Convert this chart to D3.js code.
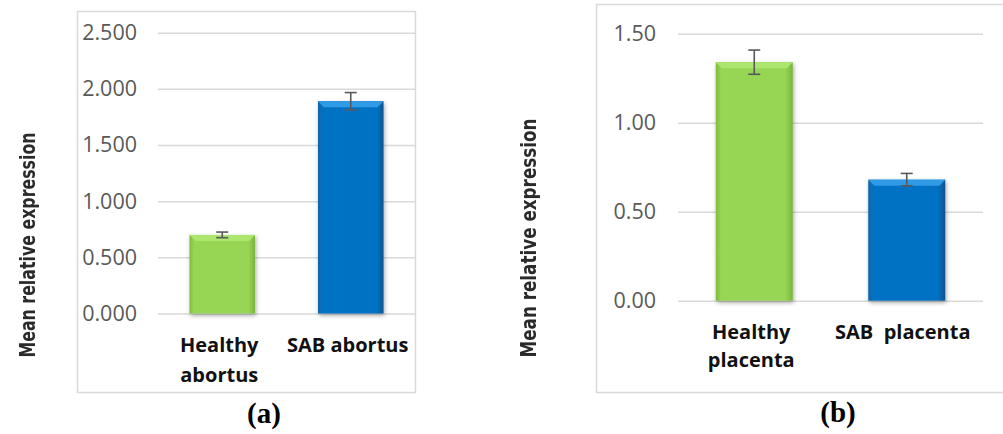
<!DOCTYPE html>
<html>
<head>
<meta charset="utf-8">
<script src="https://cdn.jsdelivr.net/npm/d3@7"></script>
<style>
  html, body { margin: 0; padding: 0; background: #fff; }
  svg { display: block; }
</style>
</head>
<body>
<svg id="fig" width="1003" height="434"></svg>
<script>
// Panel (a): abortus tissue
const categoriesA = ["Healthy abortus", "SAB abortus"];
const labelLinesA = [["Healthy", "abortus"], ["SAB abortus"]];
const valuesA = [0.70, 1.89];
const errorsA = [0.025, 0.077];
const ticksA = [0, 0.5, 1.0, 1.5, 2.0, 2.5];

// Panel (b): placenta tissue
const categoriesB = ["Healthy placenta", "SAB placenta"];
const labelLinesB = [["Healthy", "placenta"], ["SAB  placenta"]];
const valuesB = [1.34, 0.68];
const errorsB = [0.068, 0.035];
const ticksB = [0, 0.5, 1.0, 1.5];

const yTitle = "Mean relative expression";
const barColors = ["green", "blue"];

const svg = d3.select("#fig");
const defs = svg.append("defs");

const palette = {
  green: { main: "#97d654", edgeL: "#7dbb3e", edgeR: "#78b33a", top: "#ace66e" },
  blue:  { main: "#0572c3", edgeL: "#0b64a8", edgeR: "#0a528c", top: "#2f9ae6" }
};

Object.entries(palette).forEach(([k, c]) => {
  const g = defs.append("linearGradient").attr("id", "grad-" + k)
    .attr("x1", "0").attr("x2", "1").attr("y1", "0").attr("y2", "0");
  g.append("stop").attr("offset", "0").attr("stop-color", c.edgeL);
  g.append("stop").attr("offset", "0.07").attr("stop-color", c.main);
  g.append("stop").attr("offset", "0.9").attr("stop-color", c.main);
  g.append("stop").attr("offset", "1").attr("stop-color", c.edgeR);
});

const shadow = defs.append("filter").attr("id", "barShadow")
  .attr("x", "-20%").attr("y", "-10%").attr("width", "140%").attr("height", "125%");
shadow.append("feDropShadow").attr("dx", 1).attr("dy", 2)
  .attr("stdDeviation", 2.2).attr("flood-color", "#000").attr("flood-opacity", 0.35);

const soft = defs.append("filter").attr("id", "softText");
soft.append("feGaussianBlur").attr("stdDeviation", 0.45);

function panel(cfg) {
  const g = svg.append("g");

  // outer frame
  g.append("rect")
    .attr("x", cfg.frame[0] + 0.5).attr("y", cfg.frame[1] + 0.5)
    .attr("width", cfg.frame[2]).attr("height", cfg.frame[3])
    .attr("fill", "none").attr("stroke", "#d9d9d9").attr("stroke-width", 1.5);

  const x = d3.scaleBand().domain(cfg.categories)
    .range([cfg.plotX0, cfg.plotX1]).paddingInner(cfg.pad).paddingOuter(cfg.pad / 2);
  const y = d3.scaleLinear().domain([0, cfg.ticks[cfg.ticks.length - 1]])
    .range([cfg.yBottom, cfg.yTop]);

  // gridlines and tick labels
  const yAxis = d3.axisLeft(y).tickValues(cfg.ticks).tickFormat(d3.format(cfg.fmt))
    .tickSize(-(cfg.plotX1 - cfg.plotX0)).tickPadding(cfg.plotX0 - cfg.labelRight);
  const ax = g.append("g").attr("transform", `translate(${cfg.plotX0},0)`).call(yAxis);
  ax.select(".domain").remove();
  ax.selectAll(".tick line").attr("stroke", "#d9d9d9").attr("stroke-width", 1.5);
  ax.selectAll(".tick text")
    .attr("fill", "#595959")
    .attr("font-family", "'Open Sans', sans-serif")
    .attr("font-size", 21.5);

  // bars
  const bars = g.selectAll("g.bar").data(cfg.categories).join("g").attr("class", "bar");
  bars.each(function(cat, i) {
    const b = d3.select(this);
    const c = palette[barColors[i]];
    const x0 = x(cat), w = x.bandwidth();
    const yv = y(cfg.values[i]), y0 = y(0);
    b.append("rect")
      .attr("x", x0).attr("y", yv).attr("width", w).attr("height", y0 - yv)
      .attr("fill", `url(#grad-${barColors[i]})`)
      .attr("filter", "url(#barShadow)");
    const bev = 6;
    b.append("path")
      .attr("d", `M${x0},${yv}L${x0 + w},${yv}L${x0 + w - bev},${yv + bev}L${x0 + bev},${yv + bev}Z`)
      .attr("fill", c.top);
  });

  // error bars
  const eb = g.selectAll("g.err").data(cfg.categories).join("g").attr("class", "err")
    .attr("stroke", "#595959").attr("stroke-width", 1.6);
  eb.each(function(cat, i) {
    const e = d3.select(this);
    const cx = x(cat) + x.bandwidth() / 2;
    const hi = y(cfg.values[i] + cfg.errors[i]);
    const lo = y(cfg.values[i] - cfg.errors[i]);
    e.append("line").attr("x1", cx).attr("x2", cx).attr("y1", hi).attr("y2", lo);
    e.append("line").attr("x1", cx - 6).attr("x2", cx + 6).attr("y1", hi).attr("y2", hi);
    e.append("line").attr("x1", cx - 6).attr("x2", cx + 6).attr("y1", lo).attr("y2", lo);
  });

  // category labels
  cfg.categories.forEach((cat, i) => {
    const t = g.append("text")
      .attr("x", x(cat) + x.bandwidth() / 2 + cfg.labelShift[i])
      .attr("y", cfg.labelY)
      .attr("text-anchor", "middle")
      .attr("font-family", "'Open Sans', sans-serif")
      .attr("font-weight", 700)
      .attr("font-size", 20)
      .attr("fill", "#111")
      .style("white-space", "pre");
    cfg.labelLines[i].forEach((line, j) => {
      t.append("tspan").attr("x", x(cat) + x.bandwidth() / 2 + cfg.labelShift[i])
        .attr("dy", j === 0 ? 0 : cfg.lineGap).text(line);
    });
  });

  // y title
  g.append("text")
    .attr("transform", `translate(${cfg.titleX},${cfg.titleY}) rotate(-90)`)
    .attr("text-anchor", "middle")
    .attr("dominant-baseline", "central")
    .attr("font-family", "'Liberation Sans Narrow', 'DejaVu Sans Condensed', sans-serif")
    .attr("font-weight", 700)
    .attr("font-size", 22)
    .attr("fill", "#2b2b2b")
    .attr("textLength", cfg.titleLen)
    .attr("lengthAdjust", "spacingAndGlyphs")
    .attr("filter", "url(#softText)")
    .text(yTitle);

  // panel letter
  g.append("text")
    .attr("x", cfg.letterX).attr("y", cfg.letterY)
    .attr("text-anchor", "middle")
    .attr("font-family", "'Liberation Serif', 'Times New Roman', serif")
    .attr("font-weight", 700)
    .attr("font-size", 29)
    .attr("fill", "#000")
    .text(cfg.letter);
}

panel({
  frame: [77, 11, 338, 381],
  categories: categoriesA, labelLines: labelLinesA,
  values: valuesA, errors: errorsA, ticks: ticksA, fmt: ".3f",
  plotX0: 158, plotX1: 415, pad: 0.49,
  yBottom: 313.5, yTop: 32.7, labelRight: 137,
  labelY: 352, lineGap: 30, labelShift: [-3, -3],
  titleX: 27, titleY: 245, titleLen: 225,
  letter: "(a)", letterX: 264, letterY: 423
});

panel({
  frame: [596, 4, 420, 388],
  categories: categoriesB, labelLines: labelLinesB,
  values: valuesB, errors: errorsB, ticks: ticksB, fmt: ".2f",
  plotX0: 678, plotX1: 983, pad: 0.495,
  yBottom: 300.7, yTop: 33.7, labelRight: 656,
  labelY: 339, lineGap: 28, labelShift: [-3, -4],
  titleX: 528, titleY: 238, titleLen: 239,
  letter: "(b)", letterX: 838, letterY: 422
});
</script>
</body>
</html>
